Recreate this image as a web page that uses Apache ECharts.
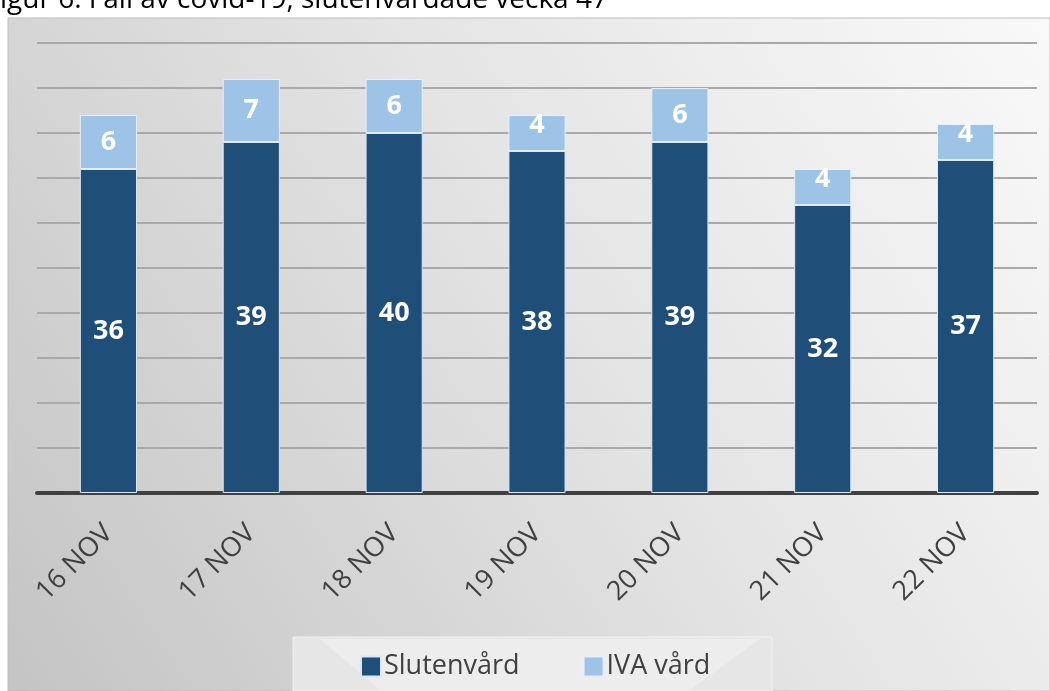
<!DOCTYPE html>
<html>
<head>
<meta charset="utf-8">
<script src="https://cdn.jsdelivr.net/npm/echarts@6/dist/echarts.min.js"></script>
<style>
html,body{margin:0;padding:0;background:#fff;}
#c{width:1050px;height:691px;}
</style>
</head>
<body>
<div id="c"></div>
<script>
const categories = ['16 NOV','17 NOV','18 NOV','19 NOV','20 NOV','21 NOV','22 NOV'];
const slutenvard = [36, 39, 40, 38, 39, 32, 37];
const ivaVard = [6, 7, 6, 4, 6, 4, 4];
const seriesNames = ['Slutenvård', 'IVA vård'];
const titleText = 'igur 6. Fall av covid-19, slutenvårdade vecka 47';

const chart = echarts.init(document.getElementById('c'), null, {renderer:'canvas'});
const FONT = '"Open Sans", "Noto Sans", sans-serif';
const labelStyle = {
  show: true, position: 'inside', color: '#ffffff',
  fontFamily: FONT, fontWeight: 'bold', fontSize: 27
};
const ivaData = ivaVard.map(v => ({
  value: v,
  label: v < 5 ? {position: 'insideTop', distance: -3} : {position: 'inside'}
}));
chart.setOption({
  animation: false,
  graphic: [
    {type:'rect', z:-10, silent:true, shape:{x:8,y:18,width:1042,height:673},
     style:{fill:new echarts.graphic.LinearGradient(0,1,1,0,[
       {offset:0,color:'#c4c4c4'},{offset:0.55,color:'#e4e4e4'},{offset:1,color:'#f9f9f9'}]),
       stroke:'#bdbdbd', lineWidth:1}},
    {type:'rect', z:-9, silent:true, shape:{x:293,y:637,width:479,height:54},
     style:{fill:'#e6e6e6', stroke:'#f2f2f2', lineWidth:1}},
    {type:'polygon', z:-8, silent:true, shape:{points:[[320,639],[760,639],[690,690],[380,690]]},
     style:{fill:'#ededed'}},
    {type:'text', z:10, silent:true,
     style:{x:0, y:0, text:titleText, fontFamily:FONT, fontSize:28, fill:'#000000', verticalAlign:'middle'}}
  ],
  legend: {
    data: seriesNames,
    left: 355, top: 648,
    itemWidth: 20, itemHeight: 20, itemGap: 63,
    icon: 'rect',
    textStyle: {fontFamily: FONT, fontSize: 27, color: '#404040', padding:[0,0,0,-2]}
  },
  grid: {left: 37, right: 13, top: 43, bottom: 198, containLabel: false},
  xAxis: {
    type: 'category', data: categories,
    axisLine: {show: true, lineStyle: {color: '#404040', width: 4}},
    axisTick: {show: false},
    axisLabel: {rotate: 45, margin: 36, fontFamily: FONT, fontSize: 27, color: '#404040'}
  },
  yAxis: {
    type: 'value', min: 0, max: 50, interval: 5,
    axisLabel: {show: false}, axisLine: {show: false}, axisTick: {show: false},
    splitLine: {lineStyle: {color: '#a9a9a9', width: 2}}
  },
  series: [
    {name: seriesNames[0], type: 'bar', stack: 'a', data: slutenvard, barWidth: '40%',
     itemStyle: {color: '#1f4e79', borderColor: '#dbe8f5', borderWidth: 1},
     label: labelStyle},
    {name: seriesNames[1], type: 'bar', stack: 'a', data: ivaData, barWidth: '40%',
     itemStyle: {color: '#9dc3e6', borderColor: '#e6f0fa', borderWidth: 1},
     label: labelStyle}
  ]
});
</script>
</body>
</html>
